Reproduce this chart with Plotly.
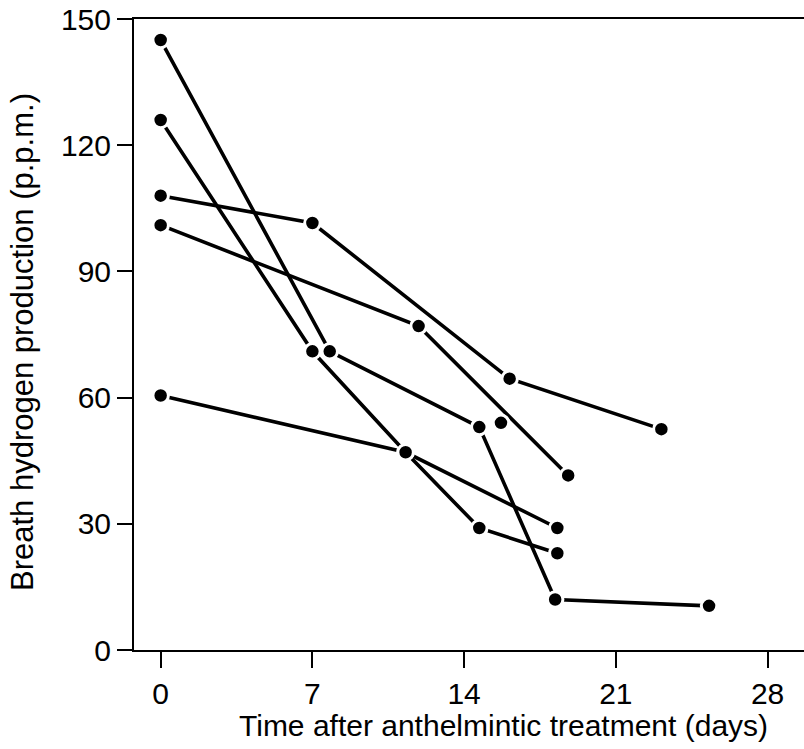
import plotly.graph_objects as go

# Breath hydrogen (p.p.m.) for each subject, by day after anthelmintic treatment
subject_days = [
    [0, 7.8, 14.7, 18.2, 25.3],
    [0, 7.0, 11.3, 14.7, 18.3],
    [0, 7.0, 16.1, 23.1],
    [0, 11.9, 18.8],
    [0, 11.3, 18.3],
]
subject_h2 = [
    [145, 71, 53, 12, 10.5],
    [126, 71, 47, 29, 23],
    [108, 101.5, 64.5, 52.5],
    [101, 77, 41.5],
    [60.5, 47, 29],
]
# single unconnected measurement
single_day = [15.7]
single_h2 = [54]

x_ticks = [0, 7, 14, 21, 28]
y_ticks = [0, 30, 60, 90, 120, 150]

x_title = "Time after anthelmintic treatment (days)"
y_title = "Breath hydrogen production (p.p.m.)"

FONT = "Liberation Sans, Arial, Helvetica, sans-serif"

fig = go.Figure()

# connecting lines first, so every marker sits on top of all lines
for d, h in zip(subject_days, subject_h2):
    fig.add_trace(go.Scatter(
        x=d, y=h, mode="lines",
        line=dict(color="black", width=3.6),
        hoverinfo="skip", showlegend=False,
    ))

# filled circles with a white rim that breaks the lines around each point
for d, h in zip(subject_days + [single_day], subject_h2 + [single_h2]):
    fig.add_trace(go.Scatter(
        x=d, y=h, mode="markers",
        marker=dict(color="black", size=15.5, line=dict(color="white", width=3)),
        showlegend=False,
    ))

fig.update_layout(
    width=804, height=749,
    margin=dict(l=134, r=0, t=19, b=99),
    paper_bgcolor="white", plot_bgcolor="white",
    font=dict(family=FONT, size=30, color="black"),
    xaxis=dict(
        range=[-1.23, 29.68],
        tickvals=x_ticks, ticktext=[str(t) for t in x_ticks],
        ticks="outside", ticklen=16, tickwidth=2, tickcolor="black",
        showline=True, linecolor="black", linewidth=2, mirror=True,
        showgrid=False, zeroline=False,
        tickfont=dict(size=30),
    ),
    yaxis=dict(
        range=[0, 150],
        tickvals=y_ticks, ticktext=[str(t) for t in y_ticks],
        ticks="outside", ticklen=15, tickwidth=2, tickcolor="black",
        showline=True, linecolor="black", linewidth=2, mirror=False,
        showgrid=False, zeroline=False,
        tickfont=dict(size=30),
    ),
    annotations=[
        dict(text=x_title, xref="paper", yref="paper",
             x=0.5515, y=-0.1204, xanchor="center", yanchor="middle",
             showarrow=False, font=dict(size=30)),
        dict(text=y_title, xref="paper", yref="paper",
             x=-0.1672, y=0.488, xanchor="center", yanchor="middle",
             textangle=-90, showarrow=False, font=dict(size=31)),
    ],
)

fig.write_html("out.html")
